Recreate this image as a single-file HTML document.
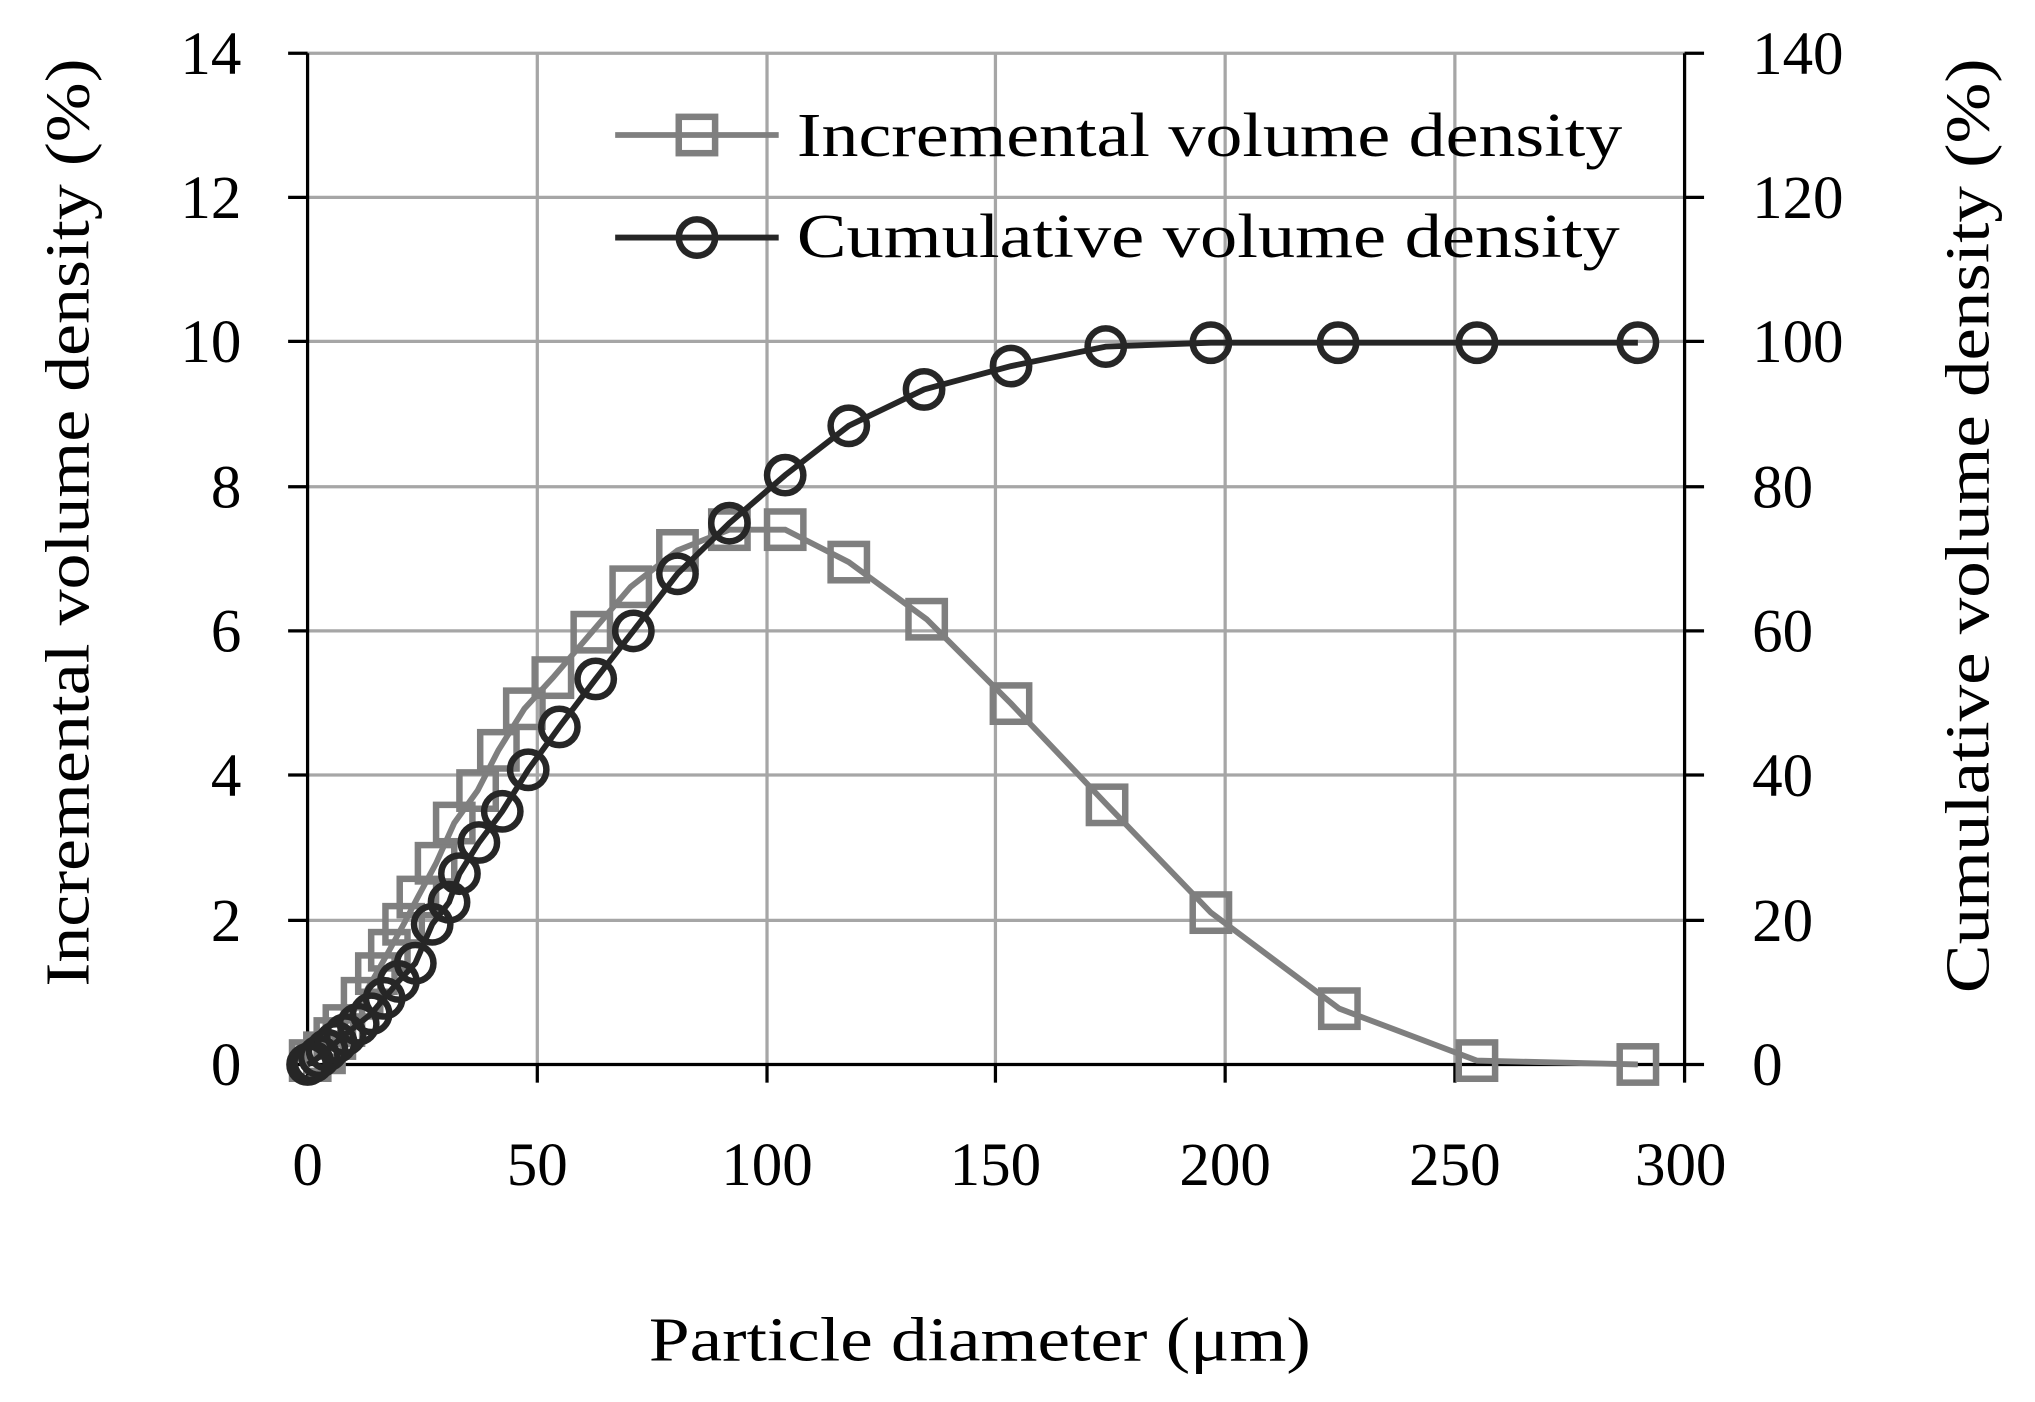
<!DOCTYPE html>
<html><head><style>html,body{margin:0;padding:0;background:#fff}svg{display:block}</style></head><body>
<svg width="2035" height="1402" viewBox="0 0 1568 1080" preserveAspectRatio="none" xmlns="http://www.w3.org/2000/svg" font-family="Liberation Serif, serif">
<rect width="1568" height="1080" fill="#fff"/>
<g stroke="#a6a6a6" stroke-width="2.5">
<line x1="414" y1="41" x2="414" y2="820"/><line x1="591" y1="41" x2="591" y2="820"/><line x1="767" y1="41" x2="767" y2="820"/><line x1="944" y1="41" x2="944" y2="820"/><line x1="1121" y1="41" x2="1121" y2="820"/>
<line x1="237" y1="41" x2="1298" y2="41"/><line x1="237" y1="152" x2="1298" y2="152"/><line x1="237" y1="263" x2="1298" y2="263"/><line x1="237" y1="375" x2="1298" y2="375"/><line x1="237" y1="486" x2="1298" y2="486"/><line x1="237" y1="597" x2="1298" y2="597"/><line x1="237" y1="709" x2="1298" y2="709"/>
</g>
<g stroke="#000" stroke-width="2.5">
<line x1="237" y1="41" x2="237" y2="820"/><line x1="1298" y1="41" x2="1298" y2="820"/><line x1="237" y1="820" x2="1298" y2="820"/>
<line x1="222" y1="41" x2="237" y2="41"/><line x1="222" y1="152" x2="237" y2="152"/><line x1="222" y1="263" x2="237" y2="263"/><line x1="222" y1="375" x2="237" y2="375"/><line x1="222" y1="486" x2="237" y2="486"/><line x1="222" y1="597" x2="237" y2="597"/><line x1="222" y1="709" x2="237" y2="709"/><line x1="222" y1="820" x2="237" y2="820"/>
<line x1="1298" y1="41" x2="1313" y2="41"/><line x1="1298" y1="152" x2="1313" y2="152"/><line x1="1298" y1="263" x2="1313" y2="263"/><line x1="1298" y1="375" x2="1313" y2="375"/><line x1="1298" y1="486" x2="1313" y2="486"/><line x1="1298" y1="597" x2="1313" y2="597"/><line x1="1298" y1="709" x2="1313" y2="709"/><line x1="1298" y1="820" x2="1313" y2="820"/>
<line x1="237" y1="820" x2="237" y2="834"/><line x1="414" y1="820" x2="414" y2="834"/><line x1="591" y1="820" x2="591" y2="834"/><line x1="767" y1="820" x2="767" y2="834"/><line x1="944" y1="820" x2="944" y2="834"/><line x1="1121" y1="820" x2="1121" y2="834"/><line x1="1298" y1="820" x2="1298" y2="834"/>
</g>
<g font-size="47" fill="#000" text-anchor="end">
<text x="186" y="57">14</text><text x="186" y="168">12</text><text x="186" y="279">10</text><text x="186" y="391">8</text><text x="186" y="502">6</text><text x="186" y="613">4</text><text x="186" y="725">2</text><text x="186" y="836">0</text>
</g>
<g font-size="47" fill="#000" text-anchor="start">
<text x="1350" y="57">140</text><text x="1350" y="168">120</text><text x="1350" y="279">100</text><text x="1350" y="391">80</text><text x="1350" y="502">60</text><text x="1350" y="613">40</text><text x="1350" y="725">20</text><text x="1350" y="836">0</text>
</g>
<g font-size="47" fill="#000" text-anchor="middle">
<text x="237" y="913">0</text><text x="414" y="913">50</text><text x="591" y="913">100</text><text x="767" y="913">150</text><text x="944" y="913">200</text><text x="1121" y="913">250</text><text x="1295" y="913">300</text>
</g>
<g font-size="48" fill="#000">
<text x="500" y="1048" textLength="510" lengthAdjust="spacingAndGlyphs">Particle diameter (μm)</text>
<text transform="translate(68,760) rotate(-90)" textLength="715" lengthAdjust="spacingAndGlyphs">Incremental volume density (%)</text>
<text transform="translate(1532,765) rotate(-90)" textLength="720" lengthAdjust="spacingAndGlyphs">Cumulative volume density (%)</text>
</g>
<polyline fill="none" stroke="#7f7f7f" stroke-width="4.5" points="239,817 250,811 258,800 265,790 279,769 290,750 300,732 311,712 322,691 336,665 350,634 368,609 384,578 404,546 426,522 456,487 486,452 522,424 562,408 605,408 654,433 714,477 779,542 853,620 933,703 1032,777 1138,817 1262,820"/>
<g fill="none" stroke="#7f7f7f" stroke-width="5">
<rect x="225" y="803" width="28" height="28"/><rect x="236" y="797" width="28" height="28"/><rect x="244" y="786" width="28" height="28"/><rect x="251" y="776" width="28" height="28"/><rect x="265" y="755" width="28" height="28"/><rect x="276" y="736" width="28" height="28"/><rect x="286" y="718" width="28" height="28"/><rect x="297" y="698" width="28" height="28"/><rect x="308" y="677" width="28" height="28"/><rect x="322" y="651" width="28" height="28"/><rect x="336" y="620" width="28" height="28"/><rect x="354" y="595" width="28" height="28"/><rect x="370" y="564" width="28" height="28"/><rect x="390" y="532" width="28" height="28"/><rect x="412" y="508" width="28" height="28"/><rect x="442" y="473" width="28" height="28"/><rect x="472" y="438" width="28" height="28"/><rect x="508" y="410" width="28" height="28"/><rect x="548" y="394" width="28" height="28"/><rect x="591" y="394" width="28" height="28"/><rect x="640" y="419" width="28" height="28"/><rect x="700" y="463" width="28" height="28"/><rect x="765" y="528" width="28" height="28"/><rect x="839" y="606" width="28" height="28"/><rect x="919" y="689" width="28" height="28"/><rect x="1018" y="763" width="28" height="28"/><rect x="1124" y="803" width="28" height="28"/><rect x="1248" y="806" width="28" height="28"/>
</g>
<polyline fill="none" stroke="#262626" stroke-width="4.5" points="237,820 241,818 246,814 252,809 259,803 266,797 276,789 286,781 296,769 307,756 320,742 333,712 346,695 354,673 369,649 387,625 407,593 431,560 459,523 488,486 522,442 562,403 605,366 654,328 712,300 779,282 852,267 933,264 1031,264 1138,264 1262,264"/>
<g fill="none" stroke="#262626" stroke-width="5">
<circle cx="237" cy="820" r="14"/><circle cx="241" cy="818" r="14"/><circle cx="246" cy="814" r="14"/><circle cx="252" cy="809" r="14"/><circle cx="259" cy="803" r="14"/><circle cx="266" cy="797" r="14"/><circle cx="276" cy="789" r="14"/><circle cx="286" cy="781" r="14"/><circle cx="296" cy="769" r="14"/><circle cx="307" cy="756" r="14"/><circle cx="320" cy="742" r="14"/><circle cx="333" cy="712" r="14"/><circle cx="346" cy="695" r="14"/><circle cx="354" cy="673" r="14"/><circle cx="369" cy="649" r="14"/><circle cx="387" cy="625" r="14"/><circle cx="407" cy="593" r="14"/><circle cx="431" cy="560" r="14"/><circle cx="459" cy="523" r="14"/><circle cx="488" cy="486" r="14"/><circle cx="522" cy="442" r="14"/><circle cx="562" cy="403" r="14"/><circle cx="605" cy="366" r="14"/><circle cx="654" cy="328" r="14"/><circle cx="712" cy="300" r="14"/><circle cx="779" cy="282" r="14"/><circle cx="852" cy="267" r="14"/><circle cx="933" cy="264" r="14"/><circle cx="1031" cy="264" r="14"/><circle cx="1138" cy="264" r="14"/><circle cx="1262" cy="264" r="14"/>
</g>
<line x1="474" y1="104" x2="600" y2="104" stroke="#7f7f7f" stroke-width="4.5"/>
<rect x="523" y="90" width="28" height="28" fill="none" stroke="#7f7f7f" stroke-width="5"/>
<line x1="474" y1="183" x2="600" y2="183" stroke="#262626" stroke-width="4.5"/>
<circle cx="537" cy="183" r="14" fill="none" stroke="#262626" stroke-width="5"/>
<g font-size="48" fill="#000">
<text x="614" y="120" textLength="636" lengthAdjust="spacingAndGlyphs">Incremental volume density</text>
<text x="614" y="198" textLength="634" lengthAdjust="spacingAndGlyphs">Cumulative volume density</text>
</g>
</svg>
</body></html>
